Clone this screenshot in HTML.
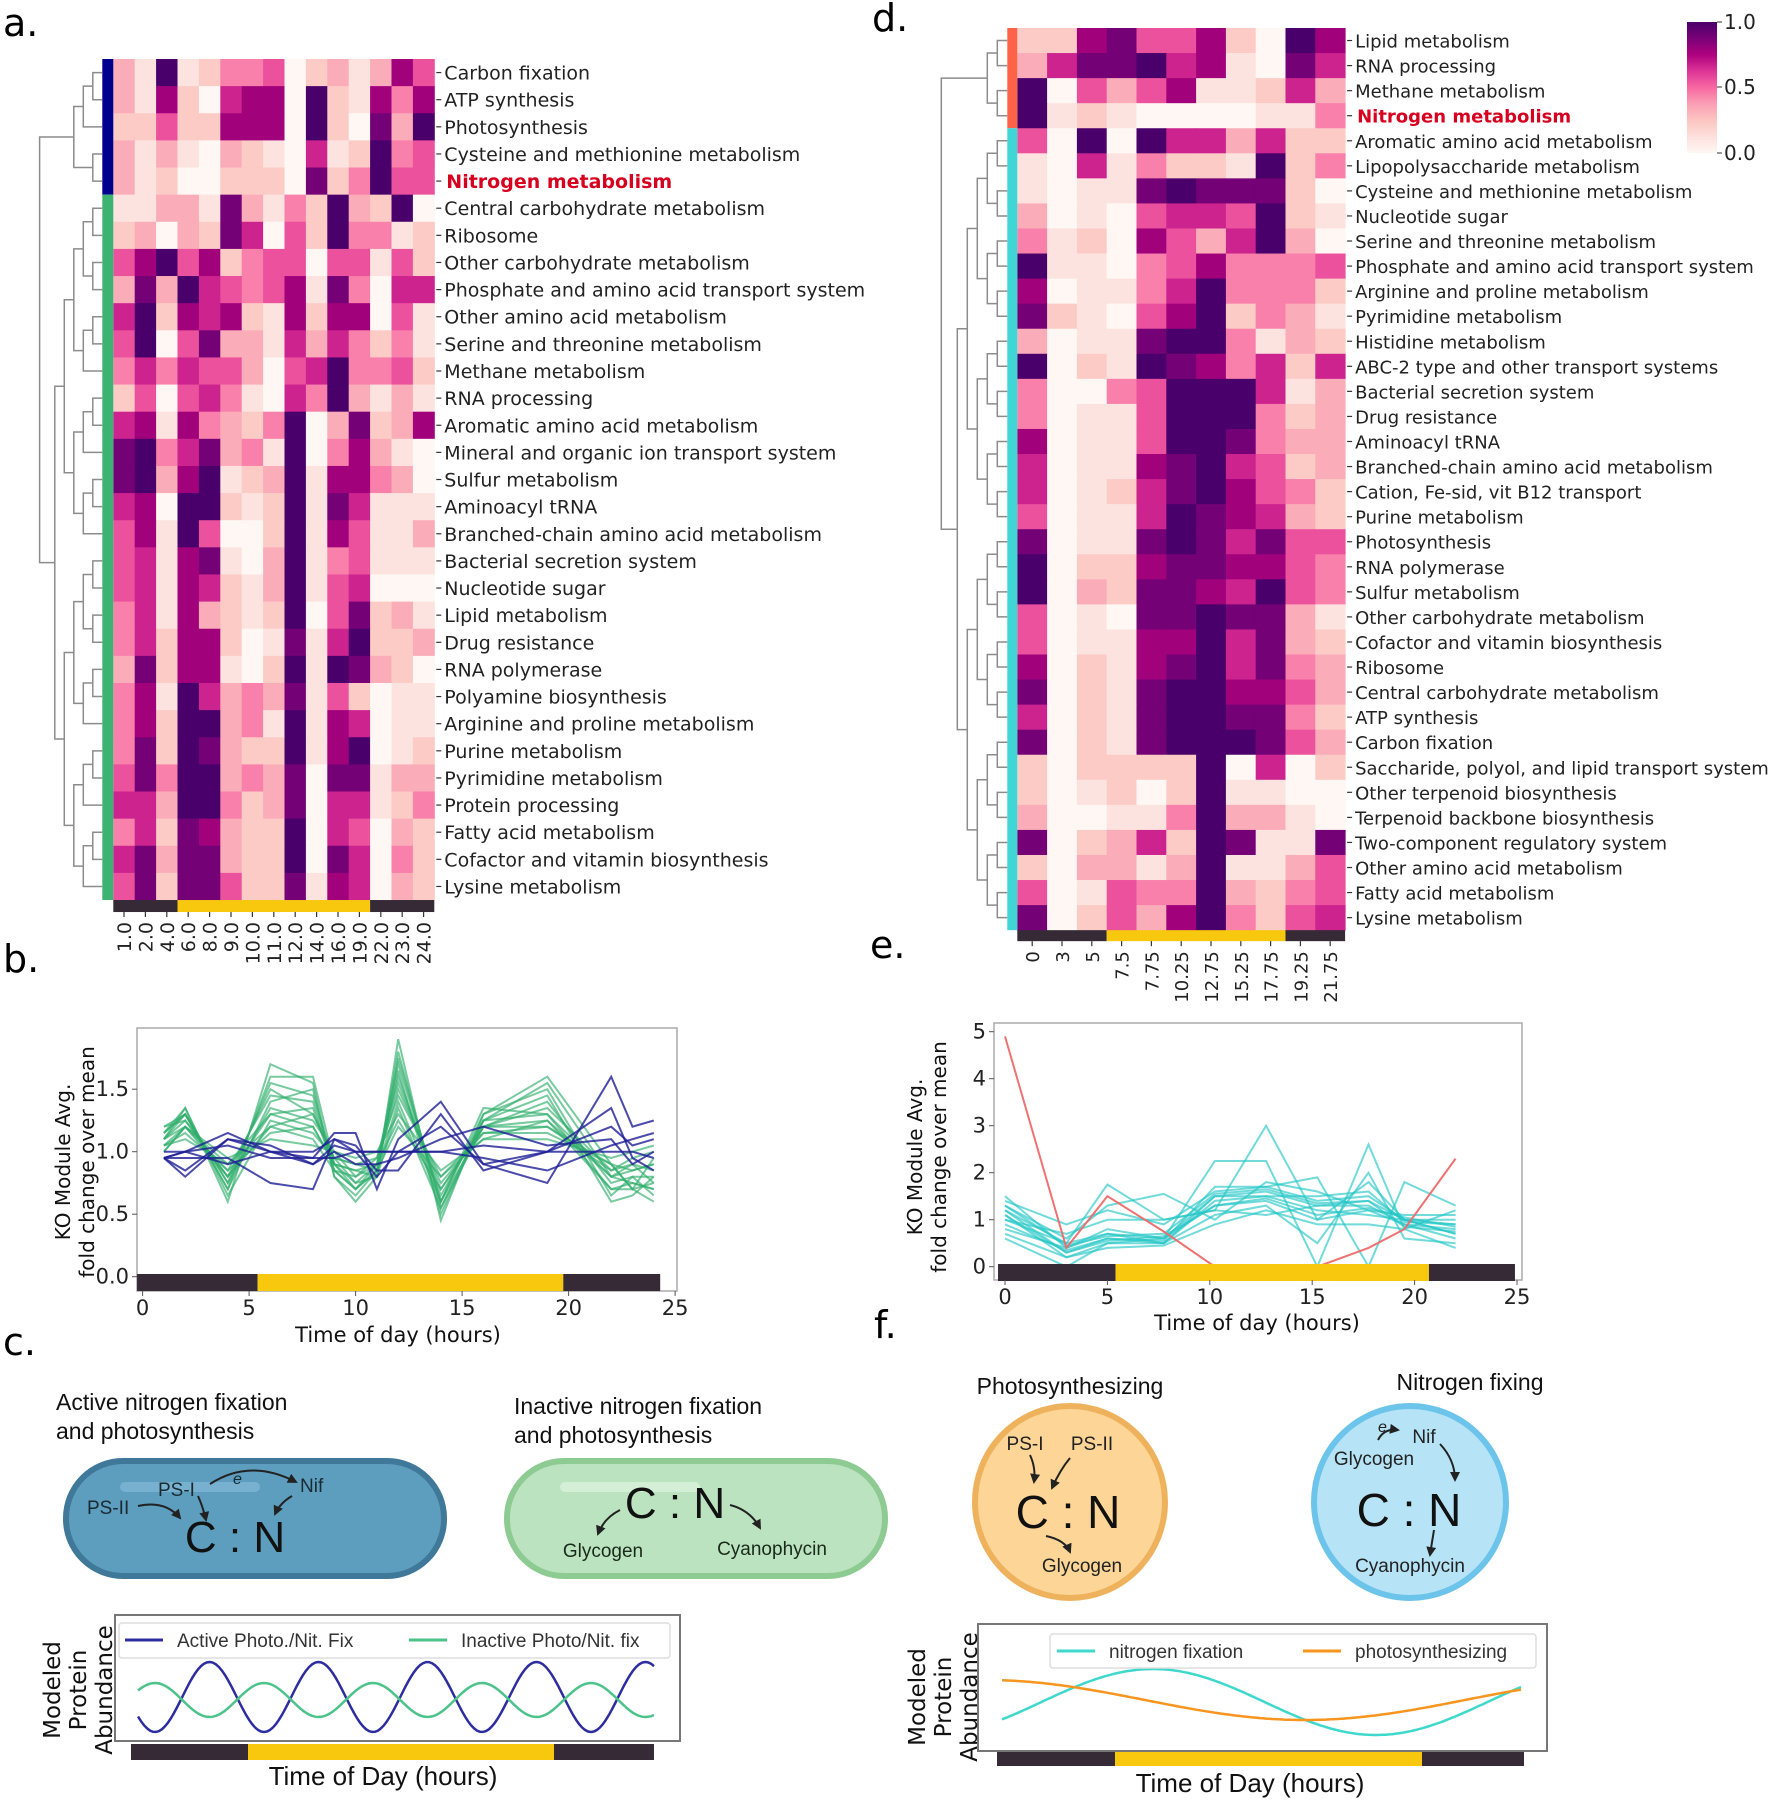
<!DOCTYPE html>
<html><head><meta charset="utf-8"><style>
html,body{margin:0;padding:0;background:#fff;}
svg{display:block;font-family:"DejaVu Sans","Liberation Sans",sans-serif;}
.nar{font-family:"Liberation Sans",sans-serif;}
</style></head><body>
<svg id="fig" xmlns="http://www.w3.org/2000/svg" width="1769" height="1800" viewBox="0 0 1769 1800">
<defs>
<marker id="arr" viewBox="0 0 10 10" refX="8" refY="5" markerWidth="5" markerHeight="5" orient="auto"><path d="M0,0 L10,5 L0,10 z" fill="#222"/></marker>
<linearGradient id="cbar" x1="0" y1="1" x2="0" y2="0">
<stop offset="0" stop-color="#fff7f3"/><stop offset="0.125" stop-color="#fde0dd"/><stop offset="0.25" stop-color="#fcc5c0"/><stop offset="0.375" stop-color="#fa9fb5"/><stop offset="0.5" stop-color="#f768a1"/><stop offset="0.625" stop-color="#dd3497"/><stop offset="0.75" stop-color="#ae017e"/><stop offset="0.875" stop-color="#7a0177"/><stop offset="1" stop-color="#49006a"/>
</linearGradient>
</defs>
<text x="3" y="36" font-size="38">a.</text>
<text x="3" y="972" font-size="38">b.</text>
<text x="3" y="1355" font-size="38">c.</text>
<text x="872" y="31" font-size="38">d.</text>
<text x="870" y="958" font-size="38">e.</text>
<text x="874" y="1338" font-size="38">f.</text>

<g>
<rect x="1687" y="22" width="30" height="131" fill="url(#cbar)"/>
<line x1="1717" y1="22" x2="1722" y2="22" stroke="#333"/><line x1="1717" y1="87" x2="1722" y2="87" stroke="#333"/><line x1="1717" y1="153" x2="1722" y2="153" stroke="#333"/>
<text x="1724" y="29" font-size="20" fill="#222">1.0</text>
<text x="1724" y="94" font-size="20" fill="#222">0.5</text>
<text x="1724" y="160" font-size="20" fill="#222">0.0</text>
</g>

<g class="nar">
<text x="56" y="1410" font-size="23" fill="#111">Active nitrogen fixation</text>
<text x="56" y="1439" font-size="23" fill="#111">and photosynthesis</text>
<text x="514" y="1414" font-size="23" fill="#111">Inactive nitrogen fixation</text>
<text x="514" y="1443" font-size="23" fill="#111">and photosynthesis</text>
<rect x="66" y="1461" width="378" height="115" rx="57" fill="#5d9dbd" stroke="#3f7899" stroke-width="6"/>
<rect x="120" y="1482" width="140" height="10" rx="5" fill="#7fb6d3" opacity="0.8"/>
<text x="87" y="1514" font-size="19" fill="#1a2a33">PS-II</text>
<text x="158" y="1496" font-size="19" fill="#1a2a33">PS-I</text>
<text x="233" y="1484" font-size="16" font-style="italic" fill="#1a2a33">e</text>
<text x="300" y="1492" font-size="19" fill="#1a2a33">Nif</text>
<text x="235" y="1552" font-size="44" fill="#111" text-anchor="middle">C : N</text>
<path d="M138,1506 Q165,1500 180,1518" fill="none" stroke="#222" stroke-width="2" marker-end="url(#arr)"/>
<path d="M198,1496 Q203,1507 206,1520" fill="none" stroke="#222" stroke-width="2" marker-end="url(#arr)"/>
<path d="M210,1484 Q250,1458 296,1482" fill="none" stroke="#222" stroke-width="2" marker-end="url(#arr)"/>
<path d="M292,1496 Q280,1503 275,1514" fill="none" stroke="#222" stroke-width="2" marker-end="url(#arr)"/>
<rect x="507" y="1461" width="378" height="115" rx="57" fill="#bce3c0" stroke="#8ecb92" stroke-width="6"/>
<rect x="560" y="1482" width="140" height="10" rx="5" fill="#d5efd7" opacity="0.9"/>
<text x="675" y="1518" font-size="44" fill="#111" text-anchor="middle">C : N</text>
<text x="603" y="1557" font-size="19" fill="#1a2a1a" text-anchor="middle">Glycogen</text>
<text x="772" y="1555" font-size="19" fill="#1a2a1a" text-anchor="middle">Cyanophycin</text>
<path d="M620,1510 Q604,1518 598,1534" fill="none" stroke="#222" stroke-width="2" marker-end="url(#arr)"/>
<path d="M730,1505 Q750,1510 760,1528" fill="none" stroke="#222" stroke-width="2" marker-end="url(#arr)"/>
</g>

<g class="nar">
<text x="1070" y="1394" font-size="23" fill="#111" text-anchor="middle">Photosynthesizing</text>
<text x="1470" y="1390" font-size="23" fill="#111" text-anchor="middle">Nitrogen fixing</text>
<ellipse cx="1070" cy="1502" rx="95" ry="96" fill="#fcd597" stroke="#efb25c" stroke-width="6"/>
<text x="1025" y="1450" font-size="19" fill="#222" text-anchor="middle">PS-I</text>
<text x="1092" y="1450" font-size="19" fill="#222" text-anchor="middle">PS-II</text>
<text x="1068" y="1528" font-size="46" fill="#111" text-anchor="middle">C : N</text>
<text x="1082" y="1572" font-size="19" fill="#222" text-anchor="middle">Glycogen</text>
<path d="M1030,1455 Q1036,1468 1034,1482" fill="none" stroke="#222" stroke-width="2" marker-end="url(#arr)"/>
<path d="M1070,1458 Q1060,1470 1052,1488" fill="none" stroke="#222" stroke-width="2" marker-end="url(#arr)"/>
<path d="M1046,1536 Q1065,1540 1070,1552" fill="none" stroke="#222" stroke-width="2" marker-end="url(#arr)"/>
<ellipse cx="1410" cy="1502" rx="96" ry="96" fill="#b6e3f6" stroke="#6cc4ea" stroke-width="6"/>
<text x="1378" y="1432" font-size="16" font-style="italic" fill="#222">e</text>
<text x="1424" y="1443" font-size="19" fill="#222" text-anchor="middle">Nif</text>
<text x="1374" y="1465" font-size="19" fill="#222" text-anchor="middle">Glycogen</text>
<text x="1409" y="1526" font-size="46" fill="#111" text-anchor="middle">C : N</text>
<text x="1410" y="1572" font-size="19" fill="#222" text-anchor="middle">Cyanophycin</text>
<path d="M1378,1440 Q1384,1428 1398,1430" fill="none" stroke="#222" stroke-width="2" marker-end="url(#arr)"/>
<path d="M1440,1444 Q1455,1460 1455,1480" fill="none" stroke="#222" stroke-width="2" marker-end="url(#arr)"/>
<path d="M1434,1530 Q1432,1542 1430,1555" fill="none" stroke="#222" stroke-width="2" marker-end="url(#arr)"/>
</g>
<g id="dyn"></g>
</svg>
<script>
const aRowLabels=["Carbon fixation","ATP synthesis","Photosynthesis","Cysteine and methionine metabolism","Nitrogen metabolism","Central carbohydrate metabolism","Ribosome","Other carbohydrate metabolism","Phosphate and amino acid transport system","Other amino acid metabolism","Serine and threonine metabolism","Methane metabolism","RNA processing","Aromatic amino acid metabolism","Mineral and organic ion transport system","Sulfur metabolism","Aminoacyl tRNA","Branched-chain amino acid metabolism","Bacterial secretion system","Nucleotide sugar","Lipid metabolism","Drug resistance","RNA polymerase","Polyamine biosynthesis","Arginine and proline metabolism","Purine metabolism","Pyrimidine metabolism","Protein processing","Fatty acid metabolism","Cofactor and vitamin biosynthesis","Lysine metabolism"];
const aColLabels=["1.0","2.0","4.0","6.0","8.0","9.0","10.0","11.0","12.0","14.0","16.0","19.0","22.0","23.0","24.0"];
const aValues=[
[3,1,9,1,2,4,4,5,0,2,3,1,3,7,5],[3,1,7,2,0,6,7,7,0,9,2,1,7,4,7],[2,2,5,2,2,7,7,7,0,9,2,0,8,3,9],[3,1,3,1,0,3,2,1,0,6,1,2,9,4,5],[3,1,2,0,0,2,2,2,0,8,2,4,9,5,5],
[1,1,3,3,1,8,3,1,4,2,9,3,2,9,0],[2,3,0,3,2,8,6,0,5,2,9,4,4,1,2],[5,7,9,5,7,2,4,5,5,0,5,5,1,5,2],[3,8,3,9,6,5,4,5,7,1,8,4,0,6,6],[6,9,2,7,6,7,2,1,7,2,7,7,0,5,1],
[5,9,0,5,8,3,3,1,6,3,6,4,2,4,1],[4,6,4,6,5,5,3,0,5,6,9,4,4,5,2],[2,5,0,5,6,4,1,0,6,4,9,3,1,3,1],[6,7,1,7,4,3,2,4,9,0,3,8,2,3,7],[8,9,4,6,8,3,4,1,9,0,4,7,3,1,0],
[8,9,3,7,9,1,2,3,9,1,7,7,4,3,0],[6,7,0,9,9,2,1,2,9,1,8,6,1,1,1],[5,7,1,9,5,0,0,2,9,1,7,5,1,1,3],[5,6,1,7,8,1,0,3,9,1,4,5,1,1,1],[5,6,1,7,6,2,1,3,9,1,5,6,0,0,0],
[4,6,1,7,3,2,1,2,9,0,5,8,2,3,1],[4,6,2,7,7,2,0,1,8,1,6,9,2,2,3],[3,8,2,7,7,1,0,2,9,1,9,8,3,2,0],[4,7,1,9,6,3,4,3,8,1,5,2,0,1,1],[4,7,2,9,9,3,4,1,9,1,7,6,0,1,1],
[4,8,2,9,8,3,2,2,9,1,7,9,0,1,2],[5,8,4,9,9,3,4,3,8,0,8,8,1,3,3],[6,6,3,9,9,4,2,3,8,0,6,6,1,2,4],[4,6,2,8,7,3,2,2,9,0,6,5,0,3,2],[6,8,3,8,8,3,2,2,9,0,8,6,0,4,2],[5,8,2,8,8,5,2,2,8,1,7,6,0,3,2]];
const aClusterSizes=[5,26];
const aNight=[3,9,3];
const dRowLabels=["Lipid metabolism","RNA processing","Methane metabolism","Nitrogen metabolism","Aromatic amino acid metabolism","Lipopolysaccharide metabolism","Cysteine and methionine metabolism","Nucleotide sugar","Serine and threonine metabolism","Phosphate and amino acid transport system","Arginine and proline metabolism","Pyrimidine metabolism","Histidine metabolism","ABC-2 type and other transport systems","Bacterial secretion system","Drug resistance","Aminoacyl tRNA","Branched-chain amino acid metabolism","Cation, Fe-sid, vit B12 transport","Purine metabolism","Photosynthesis","RNA polymerase","Sulfur metabolism","Other carbohydrate metabolism","Cofactor and vitamin biosynthesis","Ribosome","Central carbohydrate metabolism","ATP synthesis","Carbon fixation","Saccharide, polyol, and lipid transport system","Other terpenoid biosynthesis","Terpenoid backbone biosynthesis","Two-component regulatory system","Other amino acid metabolism","Fatty acid metabolism","Lysine metabolism"];
const dColLabels=["0","3","5","7.5","7.75","10.25","12.75","15.25","17.75","19.25","21.75"];
const dValues=[
[2,2,7,8,5,5,7,2,0,9,7],[3,6,8,8,9,6,7,1,0,8,6],[9,0,5,3,5,7,1,1,2,6,3],[9,1,2,1,0,0,0,0,1,1,4],[5,0,9,0,9,6,6,3,6,2,2],[1,0,6,1,4,2,2,1,9,2,4],
[1,0,1,1,8,9,8,8,8,2,0],[3,0,1,0,5,6,6,5,9,2,1],[4,1,2,0,7,5,3,6,9,3,0],[9,1,1,0,4,5,7,4,4,4,5],[7,0,1,1,4,6,9,4,4,4,2],[8,2,1,0,5,7,9,2,4,3,1],
[3,0,1,1,8,9,9,4,1,3,2],[9,0,2,1,9,8,7,4,6,2,6],[4,0,0,4,5,9,9,9,6,1,3],[4,0,1,1,5,9,9,9,4,2,3],[7,0,1,1,5,9,9,8,4,3,3],[6,0,1,1,7,8,9,6,5,2,3],
[6,0,1,2,6,8,9,7,5,4,2],[5,0,1,1,6,9,8,7,6,3,2],[8,0,1,1,8,9,8,6,8,5,5],[9,0,2,2,7,8,8,7,7,5,4],[9,0,3,2,8,8,7,6,9,5,4],[5,0,1,0,8,8,9,8,8,3,1],
[5,0,1,1,7,7,9,6,8,3,2],[7,0,2,1,7,8,9,6,8,4,3],[8,0,2,1,8,9,9,7,7,5,3],[6,0,2,1,8,9,9,8,8,4,2],[8,0,2,1,8,9,9,9,8,5,3],[2,0,2,2,2,2,9,0,6,0,2],
[2,0,1,2,0,2,9,1,1,0,0],[3,0,0,1,1,4,9,3,3,1,0],[8,0,2,3,6,2,9,8,1,1,8],[2,0,3,3,1,3,9,1,1,3,5],[5,0,1,5,4,4,9,3,2,4,5],[8,0,2,5,3,7,9,4,2,5,6]];
const dClusterSizes=[4,32];
const dNight=[3,6,2];
const bTimes=[1,2,4,6,8,9,10,11,12,14,16,19,22,23,24];
const bGreen=[
[1.1,1.35,0.6,1.7,1.55,0.8,0.6,0.8,1.9,0.45,1.3,1.6,0.9,0.7,0.75],
[1.15,1.3,0.7,1.6,1.6,0.9,0.7,0.85,1.8,0.55,1.25,1.55,0.8,0.75,0.7],
[1.2,1.25,0.8,1.5,1.3,0.95,0.75,0.9,1.7,0.6,1.2,1.4,0.75,0.8,0.8],
[1.05,1.2,0.85,1.45,1.4,0.85,0.8,0.9,1.6,0.65,1.25,1.3,0.8,0.85,0.9],
[1.1,1.3,0.75,1.35,1.25,1.0,0.8,0.95,1.55,0.7,1.2,1.2,0.85,0.9,0.85],
[1.0,1.2,0.9,1.3,1.2,0.9,0.85,0.9,1.5,0.75,1.15,1.15,0.9,0.7,0.95],
[1.15,1.35,0.65,1.25,1.15,0.95,0.9,0.95,1.45,0.8,1.1,1.25,0.7,0.75,0.7],
[1.1,1.25,0.8,1.2,1.1,0.85,0.7,0.85,1.4,0.6,1.3,1.5,0.65,0.8,0.65],
[1.05,1.15,0.85,1.15,1.2,0.9,0.75,0.8,1.35,0.55,1.2,1.35,0.85,0.95,1.0],
[1.2,1.3,0.7,1.4,1.5,0.8,0.65,0.85,1.65,0.5,1.25,1.45,0.6,0.65,0.8],
[1.0,1.2,0.95,1.1,1.05,1.0,0.95,1.0,1.3,0.85,1.1,1.1,0.95,1.0,1.05],
[1.15,1.3,0.75,1.55,1.45,0.9,0.85,0.8,1.75,0.6,1.35,1.3,0.7,0.7,0.6],
[1.1,1.2,0.8,1.3,1.35,0.85,0.7,0.9,1.25,0.7,1.2,1.25,0.8,0.9,0.75],
[1.05,1.1,0.9,1.2,1.3,0.95,0.9,0.85,1.2,0.8,1.15,1.2,0.9,0.85,0.9]];
const bBlue=[
[0.95,0.85,1.1,1.0,0.95,1.15,1.15,0.7,1.1,1.4,0.9,0.75,1.6,1.2,1.25],
[0.95,1.0,0.9,1.0,1.0,1.1,1.0,1.0,1.0,1.0,1.05,1.0,1.0,1.0,0.95],
[0.95,0.95,0.95,0.75,0.7,1.1,1.05,0.85,0.85,1.3,0.85,1.0,1.35,0.95,0.85],
[1.0,1.0,1.15,1.0,0.9,1.05,1.0,0.8,1.0,1.2,0.9,1.0,1.2,1.05,1.1],
[0.95,0.8,1.1,1.05,0.9,1.0,0.9,0.9,0.95,1.1,1.2,1.05,1.1,0.9,1.0],
[0.95,1.0,1.05,0.95,0.95,0.95,1.0,1.0,1.0,1.0,0.95,0.85,1.05,1.1,1.15]];
const bYTicks=[0,0.5,1.0,1.5];
const bXTicks=[0,5,10,15,20,25];
const bDay=[5.4,19.75];
const eTimes=[0,3,5,7.75,10.25,12.75,15.25,17.75,19.5,22];
const eRed=[4.9,0.4,1.5,0.75,0,0,0,0.4,0.8,2.3];
const eCyan=[
[1.5,0.4,0.7,0.6,1.5,1.6,1.3,1.3,0.9,0.8],[1.2,0.3,0.6,0.5,1.4,1.5,1.2,1.1,1.0,0.7],[1.0,0.5,1.75,1.0,1.2,3.0,1.0,1.8,1.0,0.9],
[1.1,0.2,0.5,0.6,2.25,2.25,0.0,2.6,0.8,1.2],[0.9,0.35,0.6,0.55,1.7,1.7,1.9,0.0,1.8,1.3],[1.3,0.6,1.3,1.55,1.0,1.8,1.6,1.2,1.1,1.1],
[0.6,0.0,0.5,0.5,1.1,1.3,0.5,2.0,0.6,0.5],[1.4,0.9,1.2,0.9,1.6,1.7,1.4,1.5,1.0,0.7],[0.8,0.4,0.8,0.6,1.3,1.4,1.0,1.2,0.9,0.6],
[1.0,0.7,1.0,1.0,1.2,1.1,1.3,1.4,1.0,1.0],[1.2,0.5,0.7,0.5,1.5,1.5,1.5,1.6,0.95,0.9],[0.7,0.2,0.4,0.45,0.9,1.2,0.9,0.9,0.8,0.4],
[1.3,0.45,0.65,0.7,1.55,1.65,1.35,1.4,0.85,0.75],[1.1,0.3,0.55,0.65,1.3,1.45,1.1,1.25,1.05,0.85]];
const eYTicks=[0,1,2,3,4,5];
const eXTicks=[0,5,10,15,20,25];
const eDay=[5.4,20.7];
const cSeriesNames=["Active Photo./Nit. Fix","Inactive Photo/Nit. fix"];
const cAmplitudes=[35,17];
const fSeriesNames=["nitrogen fixation","photosynthesizing"];
const fAmplitudes=[33,20];
const fPeriods=[446,640];
const fPeaks=[1153,985];

const NS="http://www.w3.org/2000/svg";
const root=document.getElementById('dyn');
function mk(tag,attrs,parent,txt){const e=document.createElementNS(NS,tag);for(const k in attrs)e.setAttribute(k,attrs[k]);if(txt!==undefined)e.textContent=txt;(parent||root).appendChild(e);return e;}
const stops=["#fff7f3","#fde0dd","#fcc5c0","#fa9fb5","#f768a1","#dd3497","#ae017e","#7a0177","#49006a"];
function hex(h){return [parseInt(h.slice(1,3),16),parseInt(h.slice(3,5),16),parseInt(h.slice(5,7),16)];}
function cmap(v){v=Math.max(0,Math.min(1,v));const p=v*8,i=Math.min(7,Math.floor(p)),t=p-i;const a=hex(stops[i]),b=hex(stops[i+1]);return "rgb("+a.map((x,k)=>Math.round(x+(b[k]-x)*t)).join(",")+")";}

function dendro(g,lo,hi,yOf,xRight,scale,tag){
  if(lo===hi)return {y:yOf(lo),h:0};
  const mid=Math.floor((lo+hi)/2);
  const l=dendro(g,lo,mid,yOf,xRight,scale,tag),r=dendro(g,mid+1,hi,yOf,xRight,scale,tag);
  const h=Math.max(l.h,r.h)+1;const x=xRight-h*scale;
  const p=mk('path',{d:`M${xRight-l.h*scale},${l.y}H${x}V${r.y}H${xRight-r.h*scale}`,fill:'none',stroke:'#8c8c8c','stroke-width':1.5},g);
  
  
  return {y:(l.y+r.y)/2,h:h};
}

function heatmap(o){
  const g=mk('g',{});
  
  
  const nR=o.rows.length,nC=o.cols.length;
  const xOf=c=>o.x0+c*o.cw, yOf=r=>o.y0+r*o.rh;
  o.vals.forEach((row,r)=>row.forEach((v,c)=>{
    const cell=mk('rect',{x:xOf(c),y:yOf(r),width:o.cw+0.5,height:o.rh+0.5,fill:cmap(v/9)},g);
    
    
  }));
  let start=0;
  o.clusters.forEach((n,k)=>{
    const s=mk('rect',{x:o.x0-o.stripW,y:yOf(start),width:o.stripW,height:n*o.rh,fill:o.clusterColors[k]},g);
    
    
    start+=n;
  });
  const ymid=r=>yOf(r)+o.rh/2;
  const xr=o.x0-o.stripW;
  const c1=dendro(g,0,o.clusters[0]-1,ymid,xr,o.dscale,o.name);
  const c2=dendro(g,o.clusters[0],nR-1,ymid,xr,o.dscale,o.name);
  const hh=Math.max(c1.h,c2.h)+1.6;
  const rp=mk('path',{d:`M${xr-c1.h*o.dscale},${c1.y}H${xr-hh*o.dscale}V${c2.y}H${xr-c2.h*o.dscale}`,fill:'none',stroke:'#8c8c8c','stroke-width':1.5},g);
  
  
  o.rows.forEach((lab,r)=>{
    mk('line',{x1:o.x0+nC*o.cw+2,x2:o.x0+nC*o.cw+7,y1:ymid(r),y2:ymid(r),stroke:'#333','stroke-width':1.2},g);
    const red=lab==="Nitrogen metabolism";
    const t=mk('text',{x:o.x0+nC*o.cw+(red?12:10),y:ymid(r)+7,'font-size':o.fs,fill:red?'#d7001f':'#222','font-weight':red?'bold':'normal'},g,lab);
    
    
  });
  const by=yOf(nR);let cs=0;
  o.night.forEach((n,k)=>{
    const b=mk('rect',{x:xOf(cs),y:by,width:n*o.cw,height:o.barH,fill:k===1?'#f8c80f':'#352a36'},g);
    
    
    cs+=n;
  });
  o.cols.forEach((lab,c)=>{
    const cx=xOf(c)+o.cw/2;
    mk('line',{x1:cx,x2:cx,y1:by+o.barH,y2:by+o.barH+5,stroke:'#333','stroke-width':1.2},g);
    const t=mk('text',{x:0,y:0,'font-size':o.fs,fill:'#222','text-anchor':'end',transform:`translate(${cx+7},${by+o.barH+10}) rotate(-90)`},g,lab);
    
    
  });
}
heatmap({name:'heatmap-a',rows:aRowLabels,cols:aColLabels,vals:aValues,x0:113.3,y0:59,cw:21.4,rh:27.13,stripW:11,clusters:aClusterSizes,clusterColors:['#00008f','#3cb371'],dscale:9.5,night:aNight,barH:12,fs:19});
heatmap({name:'heatmap-d',rows:dRowLabels,cols:dColLabels,vals:dValues,x0:1017.3,y0:28,cw:29.8,rh:25.06,stripW:10,clusters:dClusterSizes,clusterColors:['#ff6347','#40d6d6'],dscale:10,night:dNight,barH:11,fs:18});

function linechart(o){
  const g=mk('g',{});
  
  
  const X=t=>o.x0+t*o.xs, Y=v=>o.y0-v*o.ys;
  const fr=mk('rect',{x:o.fx1,y:o.fy1,width:o.fx2-o.fx1,height:o.fy2-o.fy1,fill:'none',stroke:'#aaa','stroke-width':1.5},g);
  
  
  o.series.forEach(s=>s.data.forEach(vals=>{
    const p=mk('polyline',{points:vals.map((v,i)=>X(s.t[i]).toFixed(1)+","+Y(v).toFixed(1)).join(" "),fill:'none',stroke:s.color,'stroke-width':2,opacity:s.op},g);
    
    
  }));
  const segs=[[o.barStart,o.day[0],'#352a36'],[o.day[0],o.day[1],'#f8c80f'],[o.day[1],o.barEnd,'#352a36']];
  segs.forEach((sg,k)=>{
    const b=mk('rect',{x:X(sg[0]),y:o.barY,width:X(sg[1])-X(sg[0]),height:o.barH,fill:sg[2]},g);
    
    
  });
  o.xticks.forEach(t=>{
    mk('line',{x1:X(t),x2:X(t),y1:o.fy2,y2:o.fy2+5,stroke:'#555'},g);
    const tx=mk('text',{x:X(t),y:o.fy2+24,'font-size':21,fill:'#222','text-anchor':'middle'},g,String(t));
    
    
  });
  o.yticks.forEach(v=>{
    mk('line',{x1:o.fx1-5,x2:o.fx1,y1:Y(v),y2:Y(v),stroke:'#555'},g);
    const tx=mk('text',{x:o.fx1-8,y:Y(v)+7,'font-size':21,fill:'#222','text-anchor':'end'},g,o.yfmt(v));
    
    
  });
  const xl=mk('text',{x:o.xlx,y:o.xly,'font-size':21,fill:'#111','text-anchor':'middle'},g,'Time of day (hours)');
  
  
  const yl=mk('text',{x:0,y:0,'font-size':20,fill:'#111','text-anchor':'middle',transform:`translate(${o.ylx},${o.yly}) rotate(-90)`},g);
  
  
  mk('tspan',{x:0,dy:0},yl,'KO Module Avg.');
  mk('tspan',{x:0,dy:24},yl,'fold change over mean');
}
linechart({name:'line-chart-b',x0:142.6,xs:21.3,y0:1276.7,ys:125,fx1:137,fx2:677,fy1:1028,fy2:1291,
  series:[{data:bGreen,t:bTimes,color:'#2fae6c',op:0.65,tag:'inactive-cluster-line'},{data:bBlue,t:bTimes,color:'#1e1e96',op:0.8,tag:'active-cluster-line'}],
  day:bDay,barStart:-0.26,barEnd:24.3,barY:1274,barH:17,xticks:bXTicks,yticks:bYTicks,yfmt:v=>v.toFixed(1),xlx:398,xly:1342,ylx:70,yly:1162});
linechart({name:'line-chart-e',x0:1005,xs:20.48,y0:1266.7,ys:47,fx1:994,fx2:1522,fy1:1023,fy2:1280,
  series:[{data:eCyan,t:eTimes,color:'#25c6c6',op:0.65,tag:'nitrogen-cluster-line'},{data:[eRed],t:eTimes,color:'#ee6a6a',op:0.95,tag:'photosynthesis-cluster-line'}],
  day:eDay,barStart:-0.34,barEnd:24.9,barY:1264,barH:17,xticks:eXTicks,yticks:eYTicks,yfmt:v=>String(v),xlx:1257,xly:1330,ylx:922,yly:1157});

function model(o){
  const g=mk('g',{});
  
  
  const fr=mk('rect',{x:o.fx1,y:o.fy1,width:o.fx2-o.fx1,height:o.fy2-o.fy1,fill:'#fff',stroke:'#777','stroke-width':2},g);
  
  
  o.curves.forEach(c=>{
    let pts=[];for(let x=o.cx1;x<=o.cx2;x+=3)pts.push(x+","+c.f(x).toFixed(1));
    const p=mk('polyline',{points:pts.join(" "),fill:'none',stroke:c.color,'stroke-width':2.5},g);
    
    
  });
  const lg=mk('rect',{x:o.lx1,y:o.ly1,width:o.lx2-o.lx1,height:o.ly2-o.ly1,fill:'#fff',stroke:'#ddd','stroke-width':1.5,rx:3},g);
  
  
  o.curves.forEach(c=>{
    mk('line',{x1:c.lx,x2:c.lx+38,y1:o.lcy,y2:o.lcy,stroke:c.color,'stroke-width':3},g);
    const t=mk('text',{x:c.lx+52,y:o.lcy+7,'font-size':19,fill:'#333',class:'nar'},g,c.label);
    
    
  });
  o.bars.forEach((b,k)=>{
    const r=mk('rect',{x:b[0],y:o.by,width:b[1]-b[0],height:o.bh,fill:k===1?'#f8c80f':'#352a36'},g);
    
    
  });
  const yl=mk('text',{x:0,y:0,'font-size':23,fill:'#111','text-anchor':'middle',transform:`translate(${o.ylx},${o.yly}) rotate(-90)`},g);
  
  
  mk('tspan',{x:0,dy:0},yl,'Modeled');
  mk('tspan',{x:0,dy:26},yl,'Protein');
  mk('tspan',{x:0,dy:26},yl,'Abundance');
  const xl=mk('text',{x:o.xlx,y:o.xly,'font-size':26,fill:'#111','text-anchor':'middle',class:'nar'},g,'Time of Day (hours)');
  
  
}
model({name:'modeled-chart-c',fx1:115,fx2:680,fy1:1615,fy2:1741,cx1:138,cx2:654,
  curves:[{label:cSeriesNames[0],color:'#2d2da0',tag:'active-model-line',lx:125,f:x=>1697-cAmplitudes[0]*Math.cos(2*Math.PI*(x-209.5)/109)},
          {label:cSeriesNames[1],color:'#4cc38a',tag:'inactive-model-line',lx:409,f:x=>1700-cAmplitudes[1]*Math.cos(2*Math.PI*(x-209.5)/109+Math.PI)}],
  lx1:119,lx2:670,ly1:1623,ly2:1658,lcy:1640,bars:[[131,248],[248,554],[554,654]],by:1744,bh:16,ylx:60,yly:1690,xlx:383,xly:1785});
model({name:'modeled-chart-f',fx1:978,fx2:1547,fy1:1624,fy2:1751,cx1:1002,cx2:1521,
  curves:[{label:fSeriesNames[0],color:'#3ed8cc',tag:'nitrogen-fixation-model-line',lx:1057,f:x=>1702-fAmplitudes[0]*Math.cos(2*Math.PI*(x-fPeaks[0])/fPeriods[0])},
          {label:fSeriesNames[1],color:'#f7951e',tag:'photosynthesizing-model-line',lx:1303,f:x=>1700-fAmplitudes[1]*Math.cos(2*Math.PI*(x-fPeaks[1])/fPeriods[1])}],
  lx1:1050,lx2:1536,ly1:1634,ly2:1668,lcy:1651,bars:[[997,1115],[1115,1422],[1422,1524]],by:1752,bh:14,ylx:925,yly:1697,xlx:1250,xly:1792});
</script>
</body></html>
